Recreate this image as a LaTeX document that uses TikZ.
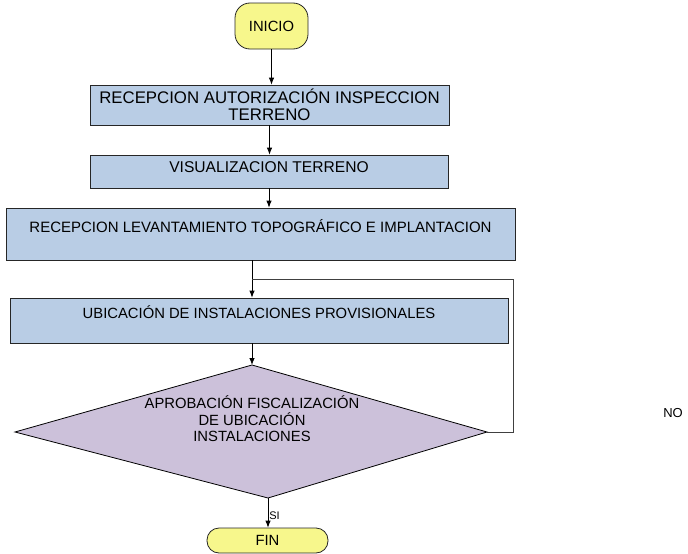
\documentclass[tikz,border=0pt]{standalone}
\usepackage{fontspec}
\setmainfont{Liberation Sans}
\usetikzlibrary{arrows.meta,positioning,calc}
\definecolor{amarillo}{HTML}{F7F78C}
\definecolor{celeste}{HTML}{B9CDE5}
\definecolor{lila}{HTML}{CCC1DA}
\definecolor{gris}{HTML}{404040}

\begin{document}
\begin{tikzpicture}[x=1pt,y=-1pt,
  caja/.style={draw=black!85,line width=0.8pt,fill=celeste,align=center,
    inner sep=0pt,font=\fontsize{14.8}{17}\selectfont},
  term/.style={draw=black!85,line width=0.8pt,fill=amarillo,inner sep=0pt,
    font=\fontsize{14.8}{17}\selectfont},
  arr/.style={-{Latex[length=7pt,width=5.5pt]},line width=0.8pt,black}]
\useasboundingbox (0,0) rectangle (688,554);
\node[term,rounded corners=15pt,minimum width=73pt,minimum height=46pt] (ini) at (271.5,26) {INICIO};
\node[caja,minimum width=359pt,minimum height=40pt,font=\fontsize{16.8}{17}\selectfont] (b1) at (269.5,105)
  {RECEPCION AUTORIZACIÓN INSPECCION\\TERRENO};
\node[caja,minimum width=358pt,minimum height=33pt,text depth=9pt,font=\fontsize{15.6}{17}\selectfont] (b2) at (269,171.5)
  {VISUALIZACION TERRENO};
\node[caja,minimum width=509pt,minimum height=52pt,font=\fontsize{15}{17}\selectfont] (b3) at (260.5,234)
  {RECEPCION LEVANTAMIENTO TOPOGRÁFICO E IMPLANTACION\\\mbox{}};
\node[caja,minimum width=498pt,minimum height=45pt] (b4) at (259,320.5)
  {UBICACIÓN DE INSTALACIONES PROVISIONALES\\\mbox{}};
% rombo de decision
\coordinate (dT) at (252,365);
\coordinate (dR) at (487,432);
\coordinate (dB) at (268,498);
\coordinate (dL) at (15,432);
\filldraw[fill=lila,draw=black,line width=0.8pt] (dT) -- (dR) -- (dB) -- (dL) -- cycle;
\node[align=center,font=\fontsize{14.8}{16.5}\selectfont] (dec) at (252,419)
  {APROBACIÓN FISCALIZACIÓN\\DE UBICACIÓN\\INSTALACIONES};
\node[term,rounded corners=12pt,minimum width=121pt,minimum height=25pt] (fin) at (267.5,540.5) {FIN};
\node[font=\fontsize{13}{15}\selectfont] (no) at (673,413) {NO};
\coordinate (lazo) at (513,279);
\draw[arr] (ini.south) -- (ini.south |- b1.north);
\draw[arr] (b1.south) -- (b1.south |- b2.north);
\draw[arr] (b2.south) -- (b2.south |- b3.north);
\draw[arr] (b3.south -| dT) -- (b4.north -| dT);
\draw[arr] (b4.south -| dT) -- (dT);
\draw[arr] (dB) -- (fin.north -| dB)
  node[pos=0.6,right,inner sep=1pt,font=\fontsize{11}{13}\selectfont]{SI};
\draw[gris,line width=0.8pt] (dR) -| (lazo) -- (lazo -| dT);
\end{tikzpicture}
\end{document}
